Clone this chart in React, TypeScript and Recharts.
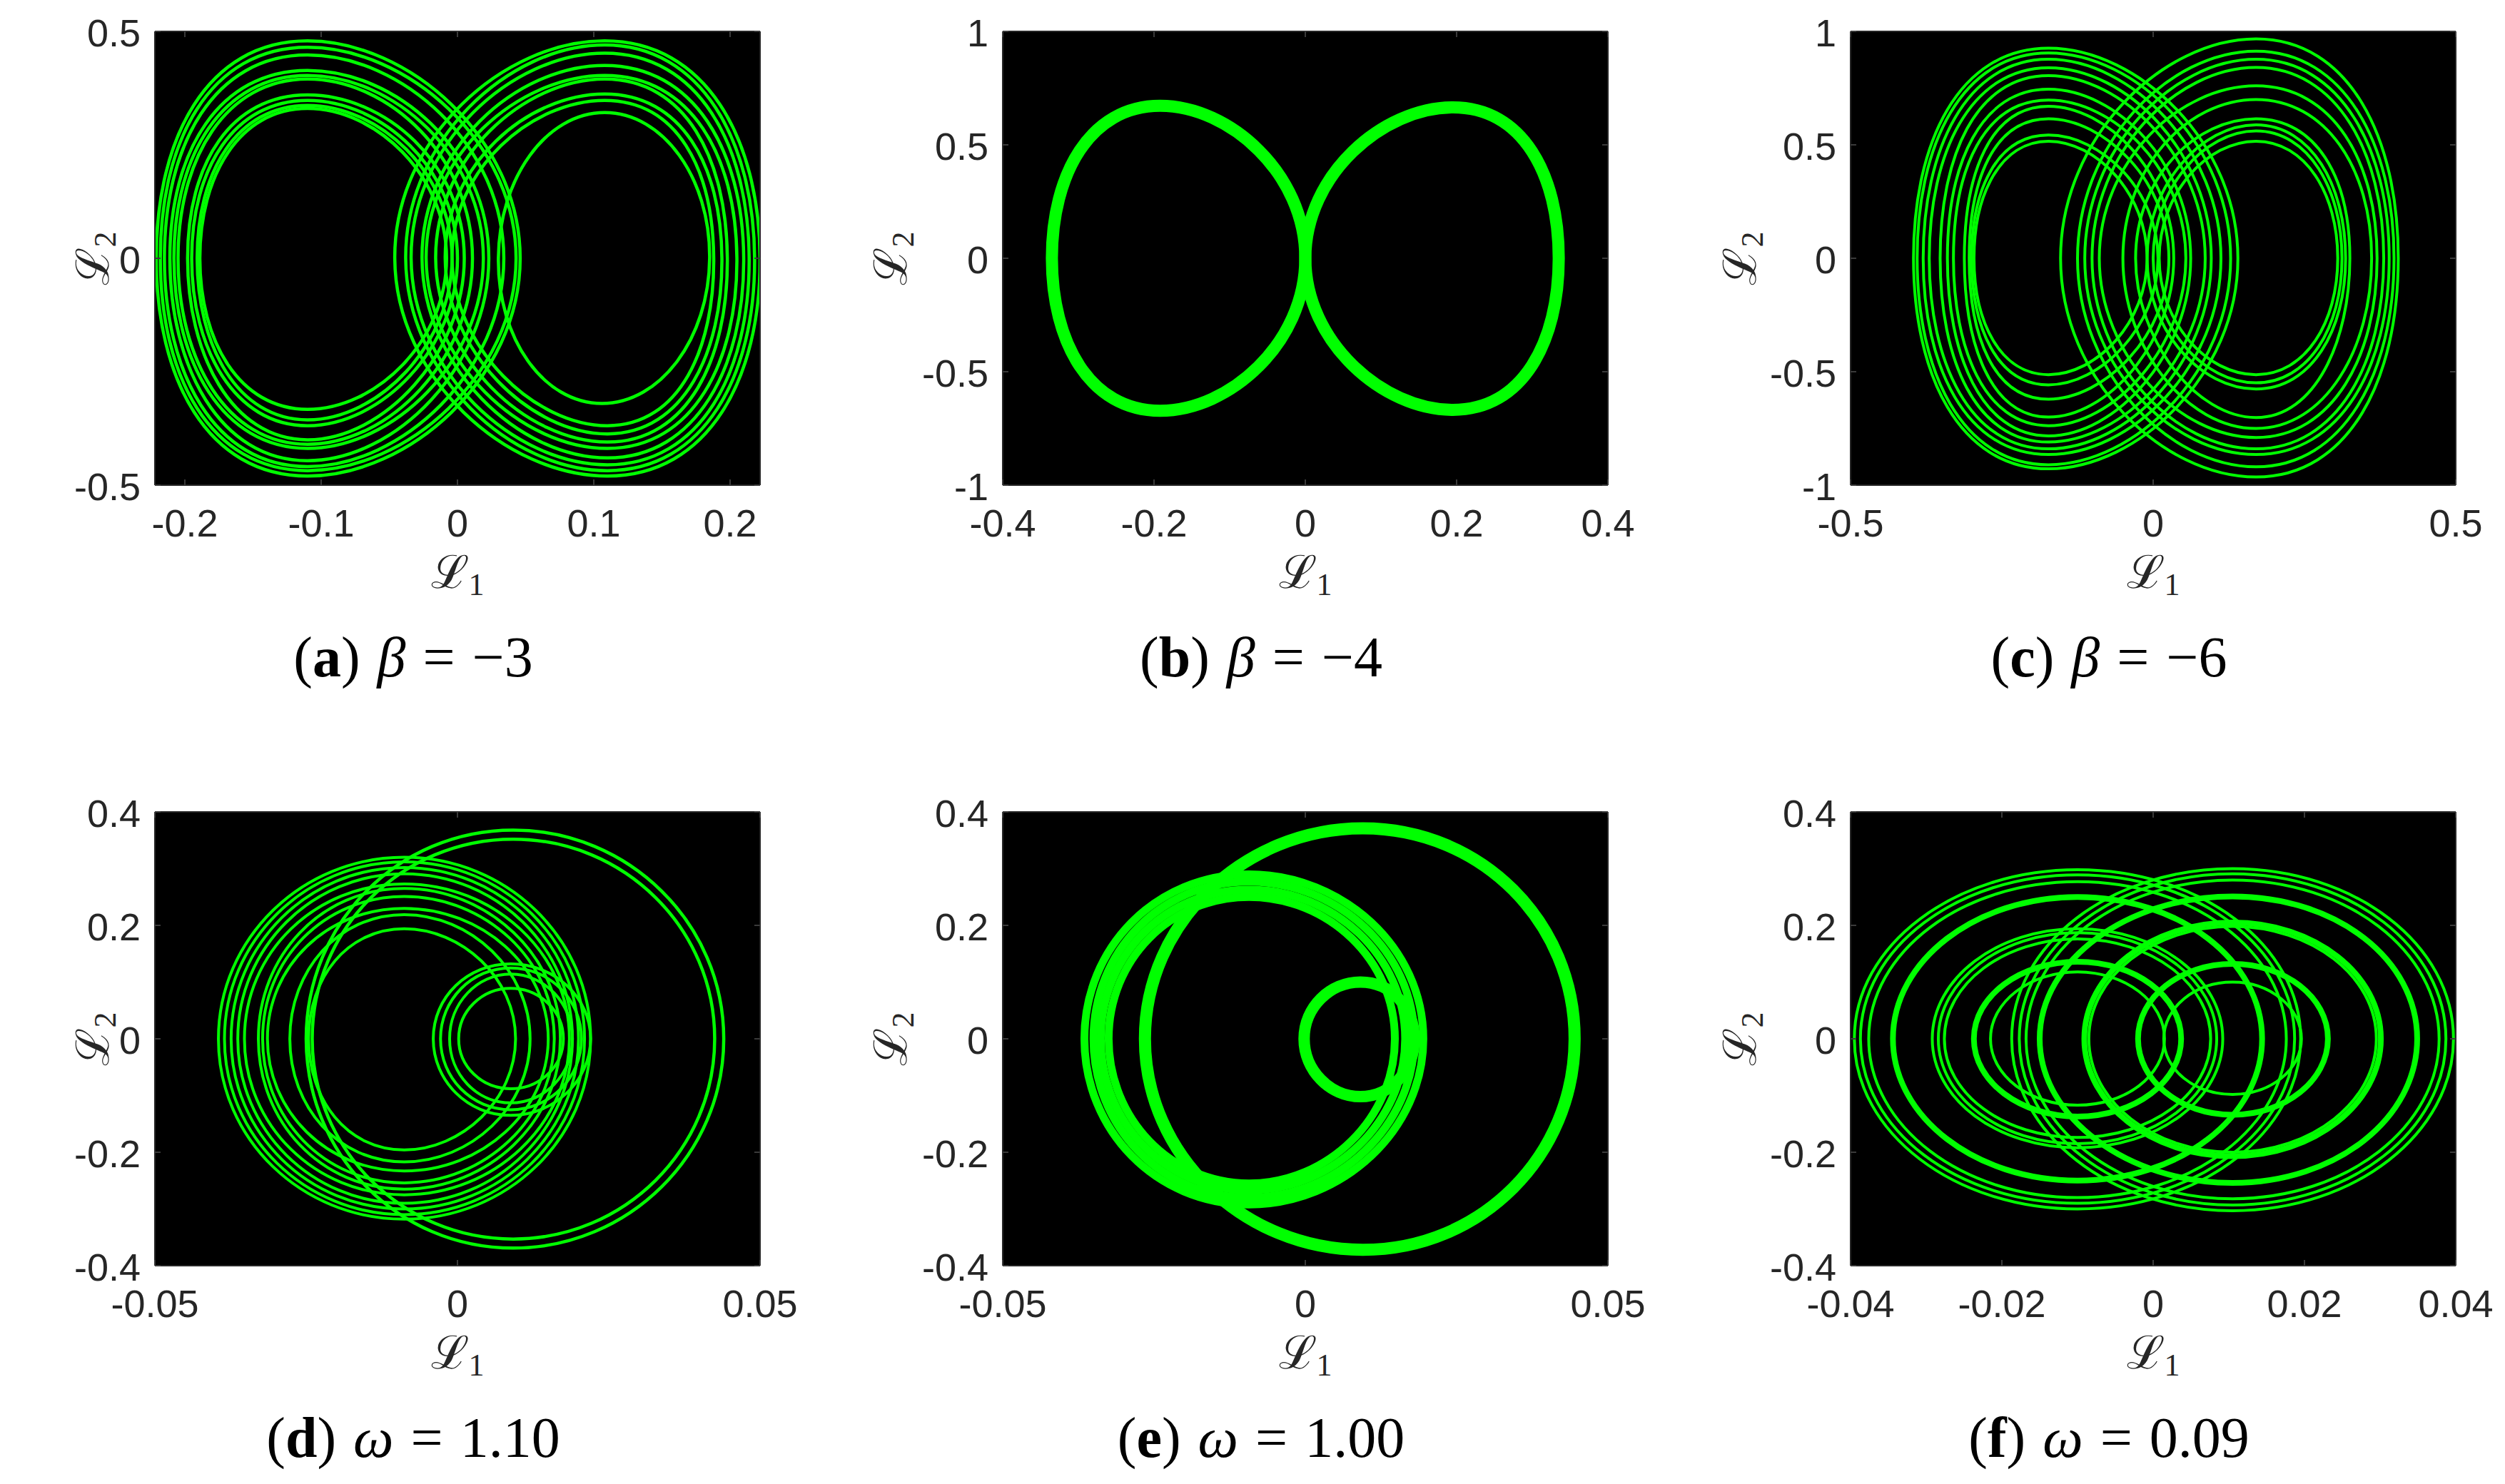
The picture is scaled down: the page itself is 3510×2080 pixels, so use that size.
import React from 'react';
import { LineChart, Line, XAxis, YAxis, CartesianGrid } from 'recharts';

// ---- values ----
// every loop: [right, top, left, bottom] extremes, as [L1, L2]

const aXTicks = [-0.2, -0.1, 0, 0.1, 0.2];
const aYTicks = [-0.5, 0, 0.5];
const aLeftLobe = [
  [[0.046, 0], [-0.11, 0.479], [-0.221, 0], [-0.11, -0.48]],
  [[0.043, 0], [-0.11, 0.465], [-0.218, 0], [-0.11, -0.468]],
  [[0.034, 0], [-0.11, 0.448], [-0.215, 0], [-0.11, -0.459]],
  [[0.023, 0], [-0.11, 0.414], [-0.211, 0], [-0.11, -0.446]],
  [[0.019, 0], [-0.11, 0.403], [-0.208, 0], [-0.11, -0.419]],
  [[0.011, 0], [-0.11, 0.395], [-0.205, 0], [-0.11, -0.41]],
  [[0.005, 0], [-0.11, 0.36], [-0.198, 0], [-0.11, -0.4]],
  [[0.0, 0], [-0.11, 0.348], [-0.195, 0], [-0.11, -0.369]],
  [[-0.004, 0], [-0.11, 0.337], [-0.191, 0], [-0.11, -0.356]],
  [[-0.008, 0], [-0.11, 0.33], [-0.189, 0], [-0.11, -0.333]],
];
const aRightLobe = [
  [[0.222, 0], [0.108, 0.479], [-0.046, 0], [0.11, -0.48]],
  [[0.218, 0], [0.108, 0.47], [-0.038, 0], [0.11, -0.468]],
  [[0.214, 0], [0.108, 0.452], [-0.034, 0], [0.11, -0.455]],
  [[0.21, 0], [0.108, 0.425], [-0.026, 0], [0.11, -0.44]],
  [[0.205, 0], [0.108, 0.403], [-0.023, 0], [0.11, -0.419]],
  [[0.198, 0], [0.108, 0.395], [-0.016, 0], [0.11, -0.405]],
  [[0.194, 0], [0.108, 0.362], [-0.009, 0], [0.11, -0.387]],
  [[0.188, 0], [0.108, 0.348], [-0.004, 0], [0.11, -0.369]],
  [[0.185, 0], [0.108, 0.321], [0.03, 0], [0.106, -0.32]],
];

const bXTicks = [-0.4, -0.2, 0, 0.2, 0.4];
const bYTicks = [-1, -0.5, 0, 0.5, 1];
const bLobes = [
  [[0.0, 0], [-0.192, 0.672], [-0.335, 0], [-0.192, -0.672]],
  [[0.335, 0], [0.195, 0.665], [0.0, 0], [0.195, -0.668]],
];

const cXTicks = [-0.5, 0, 0.5];
const cYTicks = [-1, -0.5, 0, 0.5, 1];
const cLeftLobe = [
  [[0.14, 0], [-0.173, 0.926], [-0.396, 0], [-0.173, -0.928]],
  [[0.128, 0], [-0.173, 0.905], [-0.39, 0], [-0.173, -0.91]],
  [[0.112, 0], [-0.173, 0.877], [-0.38, 0], [-0.173, -0.865]],
  [[0.096, 0], [-0.173, 0.84], [-0.37, 0], [-0.173, -0.84]],
  [[0.086, 0], [-0.173, 0.805], [-0.352, 0], [-0.173, -0.81]],
  [[0.062, 0], [-0.173, 0.745], [-0.34, 0], [-0.173, -0.783]],
  [[0.054, 0], [-0.173, 0.697], [-0.33, 0], [-0.173, -0.738]],
  [[0.034, 0], [-0.173, 0.67], [-0.312, 0], [-0.173, -0.7]],
  [[0.026, 0], [-0.173, 0.615], [-0.304, 0], [-0.173, -0.621]],
  [[0.008, 0], [-0.173, 0.543], [-0.3, 0], [-0.173, -0.558]],
  [[-0.01, 0], [-0.173, 0.516], [-0.296, 0], [-0.173, -0.513]],
];
const cRightLobe = [
  [[0.405, 0], [0.17, 0.967], [-0.153, 0], [0.17, -0.964]],
  [[0.398, 0], [0.17, 0.913], [-0.125, 0], [0.17, -0.919]],
  [[0.39, 0], [0.17, 0.877], [-0.113, 0], [0.17, -0.865]],
  [[0.381, 0], [0.17, 0.841], [-0.101, 0], [0.17, -0.84]],
  [[0.37, 0], [0.17, 0.76], [-0.089, 0], [0.17, -0.79]],
  [[0.361, 0], [0.17, 0.7], [-0.05, 0], [0.17, -0.75]],
  [[0.325, 0], [0.17, 0.615], [-0.029, 0], [0.17, -0.702]],
  [[0.318, 0], [0.17, 0.588], [-0.01, 0], [0.17, -0.576]],
  [[0.312, 0], [0.17, 0.561], [0.0, 0], [0.17, -0.549]],
  [[0.305, 0], [0.17, 0.516], [0.01, 0], [0.17, -0.513]],
];

const dXTicks = [-0.05, 0, 0.05];
const dYTicks = [-0.4, -0.2, 0, 0.2, 0.4];
const dOuterLoops = [
  [[0.044, 0], [0.0092, 0.368], [-0.025, 0], [0.0092, -0.369]],
  [[0.0425, 0], [0.0092, 0.352], [-0.024, 0], [0.0092, -0.353]],
];
const dMainLoops = [
  [[0.022, 0], [-0.0088, 0.32], [-0.0395, 0], [-0.0088, -0.318]],
  [[0.021, 0], [-0.0088, 0.312], [-0.0385, 0], [-0.0088, -0.31]],
  [[0.02, 0], [-0.0088, 0.302], [-0.0374, 0], [-0.0088, -0.3]],
  [[0.019, 0], [-0.0088, 0.291], [-0.0363, 0], [-0.0088, -0.29]],
  [[0.0185, 0], [-0.0088, 0.273], [-0.0352, 0], [-0.0088, -0.275]],
  [[0.017, 0], [-0.0088, 0.265], [-0.0329, 0], [-0.0088, -0.265]],
  [[0.016, 0], [-0.0088, 0.251], [-0.0322, 0], [-0.0088, -0.254]],
  [[0.015, 0], [-0.0088, 0.23], [-0.0314, 0], [-0.0088, -0.233]],
  [[0.012, 0], [-0.0088, 0.219], [-0.0277, 0], [-0.0088, -0.217]],
  [[0.0096, 0], [-0.0088, 0.194], [-0.0246, 0], [-0.0088, -0.196]],
];
const dInnerLoops = [
  [[0.022, 0], [0.0088, 0.132], [-0.004, 0], [0.0088, -0.135]],
  [[0.0205, 0], [0.0088, 0.125], [-0.0028, 0], [0.0088, -0.125]],
  [[0.019, 0], [0.0088, 0.114], [-0.0013, 0], [0.0088, -0.113]],
  [[0.0175, 0], [0.0088, 0.089], [0.0002, 0], [0.0088, -0.088]],
];

const eXTicks = [-0.05, 0, 0.05];
const eYTicks = [-0.4, -0.2, 0, 0.2, 0.4];
const eOuterLoop = [[[0.0445, 0], [0.0095, 0.371], [-0.0265, 0], [0.0095, -0.372]]];
const eMainLoops = [
  [[0.0195, 0], [-0.0093, 0.29], [-0.0365, 0], [-0.0093, -0.292]],
  [[0.018, 0], [-0.0093, 0.277], [-0.035, 0], [-0.0093, -0.28]],
  [[0.0165, 0], [-0.0093, 0.263], [-0.0338, 0], [-0.0093, -0.267]],
  [[0.0148, 0], [-0.0093, 0.25], [-0.0325, 0], [-0.0093, -0.255]],
];
const eInnerLoop = [[[0.018, 0], [0.0091, 0.1], [-0.0002, 0], [0.0091, -0.102]]];

const fXTicks = [-0.04, -0.02, 0, 0.02, 0.04];
const fYTicks = [-0.4, -0.2, 0, 0.2, 0.4];
const fThinLoops = [
  [[0.0195, 0], [-0.01, 0.298], [-0.0395, 0], [-0.01, -0.3]],
  [[0.0187, 0], [-0.01, 0.289], [-0.0387, 0], [-0.01, -0.29]],
  [[0.0176, 0], [-0.01, 0.277], [-0.0376, 0], [-0.01, -0.28]],
  [[0.0092, 0], [-0.01, 0.194], [-0.0292, 0], [-0.01, -0.192]],
  [[0.0084, 0], [-0.01, 0.187], [-0.0284, 0], [-0.01, -0.185]],
  [[0.0076, 0], [-0.01, 0.176], [-0.0276, 0], [-0.01, -0.174]],
  [[0.0015, 0], [-0.01, 0.118], [-0.0215, 0], [-0.01, -0.117]],
  [[0.0397, 0], [0.0105, 0.3], [-0.0187, 0], [0.0105, -0.303]],
  [[0.0387, 0], [0.0105, 0.291], [-0.0177, 0], [0.0105, -0.293]],
  [[0.0378, 0], [0.0105, 0.28], [-0.0168, 0], [0.0105, -0.282]],
  [[0.0295, 0], [0.0105, 0.198], [-0.0085, 0], [0.0105, -0.2]],
  [[0.0196, 0], [0.0105, 0.1], [0.0014, 0], [0.0105, -0.098]],
];
const fThickLoops = [
  [[0.0144, 0], [-0.01, 0.25], [-0.0344, 0], [-0.01, -0.25]],
  [[0.0037, 0], [-0.01, 0.136], [-0.0237, 0], [-0.01, -0.137]],
  [[0.0349, 0], [0.0105, 0.251], [-0.015, 0], [0.0105, -0.254]],
  [[0.0301, 0], [0.0105, 0.205], [-0.0091, 0], [0.0105, -0.207]],
  [[0.0231, 0], [0.0105, 0.132], [-0.002, 0], [0.0105, -0.134]],
];

const captionLetters = ['a', 'b', 'c', 'd', 'e', 'f'];
const captionSymbols = ['β', 'β', 'β', 'ω', 'ω', 'ω'];
const captionValues = ['−3', '−4', '−6', '1.10', '1.00', '0.09'];

// ---- look ----
const GREEN = '#00ff00';
const AXIS = '#262626';
const TICK = '#3a3a3a';
const SANS = '"Liberation Sans", Arial, sans-serif';
const SERIF = '"Liberation Serif", "Times New Roman", serif';
const SCRIPT = '"DejaVu Serif", serif';

const PLOT_W = 848;
const PLOT_H = 636;
const PAD_L = 200;
const PAD_T = 40;
const PAD_R = 130;
const PAD_B = 200;
const TICK_LEN = 8;
const colLefts = [217, 1405, 2593];
const rowTops = [44, 1138];
const yLabelOffsets = [83, 153, 151];

const panels = [
  { xDomain: [-0.222, 0.222], yDomain: [-0.5, 0.5], xTicks: aXTicks, yTicks: aYTicks,
    groups: [{ loops: aLeftLobe, width: 4.5 }, { loops: aRightLobe, width: 4.5 }] },
  { xDomain: [-0.4, 0.4], yDomain: [-1, 1], xTicks: bXTicks, yTicks: bYTicks,
    groups: [{ loops: bLobes, width: 17 }] },
  { xDomain: [-0.5, 0.5], yDomain: [-1, 1], xTicks: cXTicks, yTicks: cYTicks,
    groups: [{ loops: cLeftLobe, width: 4 }, { loops: cRightLobe, width: 4 }] },
  { xDomain: [-0.05, 0.05], yDomain: [-0.4, 0.4], xTicks: dXTicks, yTicks: dYTicks,
    groups: [{ loops: dOuterLoops, width: 4.5 }, { loops: dMainLoops, width: 4 }, { loops: dInnerLoops, width: 4 }] },
  { xDomain: [-0.05, 0.05], yDomain: [-0.4, 0.4], xTicks: eXTicks, yTicks: eYTicks,
    groups: [{ loops: eOuterLoop, width: 17 }, { loops: eMainLoops, width: 11 }, { loops: eInnerLoop, width: 16 }] },
  { xDomain: [-0.04, 0.04], yDomain: [-0.4, 0.4], xTicks: fXTicks, yTicks: fYTicks,
    groups: [{ loops: fThinLoops, width: 4 }, { loops: fThickLoops, width: 8 }] },
];

// closed smooth curve through the loop points (cardinal spline, tension set so 4 extremes give an ellipse)
function smoothLoop(context: any) {
  let pts: number[][] = [];
  return {
    areaStart() {},
    areaEnd() {},
    lineStart() {
      pts = [];
    },
    point(x: number, y: number) {
      pts.push([+x, +y]);
    },
    lineEnd() {
      const n = pts.length;
      if (n < 3) return;
      const k = ((2 / 3) * Math.tan(Math.PI / (2 * n))) / Math.sin((2 * Math.PI) / n);
      context.moveTo(pts[0][0], pts[0][1]);
      for (let i = 0; i < n; i++) {
        const p0 = pts[(i + n - 1) % n];
        const p1 = pts[i];
        const p2 = pts[(i + 1) % n];
        const p3 = pts[(i + 2) % n];
        context.bezierCurveTo(
          p1[0] + k * (p2[0] - p0[0]), p1[1] + k * (p2[1] - p0[1]),
          p2[0] - k * (p3[0] - p1[0]), p2[1] - k * (p3[1] - p1[1]),
          p2[0], p2[1],
        );
      }
      context.closePath();
    },
  };
}

const toPoints = (loop: number[][]) => loop.map(([x, y]) => ({ x, y }));

const BottomTick = ({ x, y, payload }: any) => (
  <g>
    <line x1={x} x2={x} y1={y} y2={y - TICK_LEN} stroke={TICK} strokeWidth={2} />
    <text x={x} y={y + 72} textAnchor="middle" fontSize={54} fontFamily={SANS} fill={AXIS}>
      {String(payload.value)}
    </text>
  </g>
);
const TopTick = ({ x, y }: any) => <line x1={x} x2={x} y1={y} y2={y + TICK_LEN} stroke={TICK} strokeWidth={2} />;
const LeftTick = ({ x, y, payload }: any) => (
  <g>
    <line x1={x} x2={x + TICK_LEN} y1={y} y2={y} stroke={TICK} strokeWidth={2} />
    <text x={x - 20} y={y + 21} textAnchor="end" fontSize={54} fontFamily={SANS} fill={AXIS}>
      {String(payload.value)}
    </text>
  </g>
);
const RightTick = ({ x, y }: any) => <line x1={x} x2={x - TICK_LEN} y1={y} y2={y} stroke={TICK} strokeWidth={2} />;

function Panel({ cfg, left, top }: any) {
  const axisLine = { stroke: AXIS, strokeWidth: 2 };
  return (
    <div style={{ position: 'absolute', left: left - PAD_L, top: top - PAD_T }}>
      <LineChart
        width={PAD_L + PLOT_W + 1 + PAD_R}
        height={PAD_T + PLOT_H + PAD_B}
        margin={{ top: PAD_T - 1, right: PAD_R, bottom: 0, left: 0 }}
      >
        <CartesianGrid xAxisId="b" yAxisId="l" horizontal={false} vertical={false} fill="#000" fillOpacity={1} stroke="none" />
        <XAxis xAxisId="b" type="number" dataKey="x" domain={cfg.xDomain} ticks={cfg.xTicks} allowDataOverflow interval={0}
          height={PAD_B} tickSize={0} tickMargin={0} tickLine={false} axisLine={axisLine} tick={(p: any) => <BottomTick {...p} />} />
        <XAxis xAxisId="t" orientation="top" type="number" dataKey="x" domain={cfg.xDomain} ticks={cfg.xTicks} allowDataOverflow interval={0}
          height={1} tickSize={0} tickMargin={0} tickLine={false} axisLine={axisLine} tick={(p: any) => <TopTick {...p} />} />
        <YAxis yAxisId="l" type="number" domain={cfg.yDomain} ticks={cfg.yTicks} allowDataOverflow interval={0}
          width={PAD_L} tickSize={0} tickMargin={0} tickLine={false} axisLine={axisLine} tick={(p: any) => <LeftTick {...p} />} />
        <YAxis yAxisId="r" orientation="right" type="number" domain={cfg.yDomain} ticks={cfg.yTicks} allowDataOverflow interval={0}
          width={1} tickSize={0} tickMargin={0} tickLine={false} axisLine={axisLine} tick={(p: any) => <RightTick {...p} />} />
        {cfg.groups.map((g: any, gi: number) =>
          g.loops.map((loop: number[][], li: number) => (
            <Line
              key={`${gi}-${li}`}
              xAxisId="b"
              yAxisId="l"
              data={toPoints(loop)}
              dataKey="y"
              type={smoothLoop as any}
              stroke={GREEN}
              strokeWidth={g.width}
              dot={false}
              activeDot={false}
              isAnimationActive={false}
            />
          )),
        )}
      </LineChart>
    </div>
  );
}

export default function App() {
  return (
    <div style={{ position: 'absolute', left: 0, top: 0, width: 3510, height: 2080, background: '#fff', overflow: 'hidden' }}>
      {panels.map((cfg, i) => (
        <Panel key={i} cfg={cfg} left={colLefts[i % 3]} top={rowTops[Math.floor(i / 3)]} />
      ))}
      <svg width={3510} height={2080} style={{ position: 'absolute', left: 0, top: 0, pointerEvents: 'none' }}>
        {panels.map((_, i) => {
          const col = i % 3;
          const left = colLefts[col];
          const top = rowTops[Math.floor(i / 3)];
          const cx = left + PLOT_W / 2;
          return (
            <g key={i}>
              <text x={cx} y={top + PLOT_H + 144} textAnchor="middle" fontSize={64} fontFamily={SCRIPT} fill={AXIS}>
                ℒ<tspan fontFamily={SERIF} fontSize={44} dy={10}>1</tspan>
              </text>
              <text
                transform={`translate(${left - yLabelOffsets[col] + 18}, ${top + PLOT_H / 2}) rotate(-90)`}
                textAnchor="middle" fontSize={64} fontFamily={SCRIPT} fill={AXIS}
              >
                ℒ<tspan fontFamily={SERIF} fontSize={44} dy={10}>2</tspan>
              </text>
              <text x={cx - 62} y={top + PLOT_H + 268} textAnchor="middle" fontSize={80} fontFamily={SERIF} fill="#000">
                <tspan>(</tspan>
                <tspan fontWeight="bold">{captionLetters[i]}</tspan>
                <tspan>)</tspan>
                <tspan dx={24} fontStyle="italic">{captionSymbols[i]}</tspan>
                <tspan dx={24}>=</tspan>
                <tspan dx={24}>{captionValues[i]}</tspan>
              </text>
            </g>
          );
        })}
      </svg>
    </div>
  );
}
